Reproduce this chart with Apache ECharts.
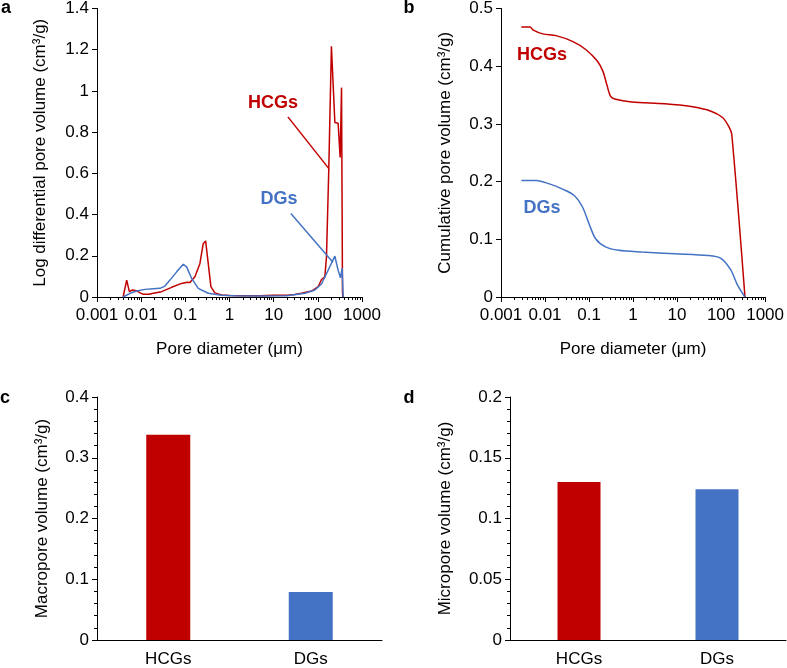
<!DOCTYPE html>
<html>
<head>
<meta charset="utf-8">
<script src="https://cdn.jsdelivr.net/npm/echarts@6/dist/echarts.min.js"></script>
<style>
  html, body { margin: 0; padding: 0; background: #fff; }
  #chart { width: 787px; height: 668px; }
</style>
</head>
<body>
<div id="chart"></div>
<script>
// panel a - log differential pore volume
var hcgsDiffDiam = [0.0039, 0.0047, 0.0054, 0.0063, 0.0079, 0.0095, 0.0112, 0.015, 0.0188, 0.029, 0.049, 0.082, 0.11, 0.127, 0.165, 0.214, 0.254, 0.288, 0.33, 0.379, 0.465, 0.66, 1, 2, 5, 10, 20, 30, 42.6, 72, 102, 121, 144, 157, 177, 203, 243, 288, 320, 344, 362, 370]
var hcgsDiffVol = [0, 0.082, 0.026, 0.034, 0.03, 0.02, 0.013, 0.013, 0.018, 0.026, 0.047, 0.066, 0.072, 0.07, 0.098, 0.163, 0.259, 0.272, 0.163, 0.05, 0.02, 0.01, 0.007, 0.006, 0.006, 0.008, 0.009, 0.012, 0.018, 0.029, 0.05, 0.085, 0.098, 0.195, 0.62, 1.217, 0.847, 0.843, 0.677, 1.016, 0.02, 0]
var dgsDiffDiam = [0.0039, 0.0056, 0.0079, 0.0122, 0.0188, 0.0266, 0.0345, 0.0449, 0.0636, 0.0898, 0.107, 0.139, 0.196, 0.33, 0.66, 1.32, 5, 20, 50.8, 85.5, 121, 171, 243, 288, 326, 355, 374]
var dgsDiffVol = [0, 0.018, 0.029, 0.037, 0.04, 0.042, 0.053, 0.082, 0.122, 0.159, 0.146, 0.09, 0.042, 0.018, 0.008, 0.006, 0.005, 0.006, 0.018, 0.034, 0.063, 0.13, 0.198, 0.13, 0.093, 0.14, 0]

// panel b - cumulative pore volume
var hcgsCumDiam = [0.0029, 0.0046, 0.0053, 0.0089, 0.0178, 0.042, 0.084, 0.154, 0.207, 0.258, 0.307, 0.384, 0.94, 5.3, 21, 59, 108, 153, 175, 349]
var hcgsCumVol = [0.468, 0.468, 0.463, 0.456, 0.453, 0.443, 0.429, 0.409, 0.391, 0.366, 0.348, 0.343, 0.338, 0.335, 0.33, 0.322, 0.311, 0.294, 0.282, 0]
var dgsCumDiam = [0.0029, 0.0063, 0.0126, 0.025, 0.046, 0.071, 0.1, 0.141, 0.237, 0.472, 1.58, 8.9, 49.8, 99, 166, 235, 349]
var dgsCumVol = [0.202, 0.202, 0.196, 0.187, 0.176, 0.156, 0.127, 0.101, 0.087, 0.081, 0.078, 0.075, 0.072, 0.067, 0.047, 0.021, 0]

// panels c, d
var samples = ['HCGs', 'DGs']
var macroVol = [0.338, 0.079]
var microVol = [0.13, 0.124]

var diamTicks = [0.001, 0.01, 0.1, 1, 10, 100, 1000]
var diamTickLabels = ['0.001', '0.01', '0.1', '1', '10', '100', '1000']

var RED = '#C00000'
var BLUE = '#4472C4'
var FONT = 'Liberation Sans, Arial, sans-serif'

var minorDiamTicks = []
for (var e = -3; e < 3; e++) {
  for (var k = 2; k < 10; k++) {
    minorDiamTicks.push(+(k * Math.pow(10, e)).toPrecision(3))
  }
}

function pairs(xs, ys) {
  return xs.map(function (x, i) { return [x, ys[i]] })
}

function logAxis(grid) {
  return [{
    type: 'log', gridIndex: grid, position: 'bottom', min: 0.001, max: 1000, logBase: 10,
    axisLine: { lineStyle: { color: '#000', width: 1 } },
    axisTick: { length: 5, customValues: diamTicks, lineStyle: { color: '#000' } },
    axisLabel: {
      customValues: diamTicks, margin: 10, color: '#000', fontSize: 17, fontFamily: FONT,
      formatter: function (v) { return diamTickLabels[diamTicks.indexOf(+v.toPrecision(3))] || '' }
    },
    splitLine: { show: false },
    name: 'Pore diameter (μm)', nameLocation: 'middle', nameGap: 44,
    nameTextStyle: { color: '#000', fontSize: 17, fontFamily: FONT }
  }, {
    // minor decade ticks
    type: 'log', gridIndex: grid, position: 'bottom', min: 0.001, max: 1000, logBase: 10,
    axisLine: { show: false },
    axisTick: { length: 3, customValues: minorDiamTicks, lineStyle: { color: '#000' } },
    axisLabel: { show: false },
    splitLine: { show: false }
  }]
}

function valueAxis(grid, max, interval, name, gap, minor) {
  return {
    type: 'value', gridIndex: grid, min: 0, max: max, interval: interval,
    axisLine: { show: true, lineStyle: { color: '#000', width: 1 } },
    axisTick: { show: true, length: 5, lineStyle: { color: '#000' } },
    minorTick: { show: minor, splitNumber: 5, length: 3, lineStyle: { color: '#000' } },
    axisLabel: { margin: 8, color: '#000', fontSize: 17, fontFamily: FONT },
    splitLine: { show: false },
    name: name, nameLocation: 'middle', nameGap: gap,
    nameTextStyle: { color: '#000', fontSize: 17, fontFamily: FONT }
  }
}

function catAxis(grid) {
  return {
    type: 'category', gridIndex: grid, data: samples,
    axisLine: { lineStyle: { color: '#000', width: 1 } },
    axisTick: { show: false },
    axisLabel: { margin: 11, color: '#000', fontSize: 17, fontFamily: FONT }
  }
}

function lineSeries(x, y, data, color, smooth) {
  return {
    type: 'line', xAxisIndex: x, yAxisIndex: y, data: data,
    showSymbol: false, smooth: smooth, silent: true,
    lineStyle: { color: color, width: 1.5 }
  }
}

function leader(color, from, to) {
  return {
    silent: true, symbol: 'none', label: { show: false },
    lineStyle: { color: color, width: 1.5, type: 'solid' },
    data: [[{ coord: from }, { coord: to }]]
  }
}

function text(x, y, str, color, size) {
  return {
    type: 'text', x: x, y: y,
    style: { text: str, fill: color, font: 'bold ' + size + 'px ' + FONT, textAlign: 'center', textVerticalAlign: 'middle' }
  }
}

var chart = echarts.init(document.getElementById('chart'))

var redA = lineSeries(0, 0, pairs(hcgsDiffDiam, hcgsDiffVol), RED, false)
redA.markLine = leader(RED, [21, 0.874], [178, 0.623])
var blueA = lineSeries(0, 0, pairs(dgsDiffDiam, dgsDiffVol), BLUE, false)
blueA.markLine = leader(BLUE, [24.5, 0.405], [219, 0.169])

chart.setOption({
  animation: false,
  grid: [
    { left: 97, top: 7, width: 265, height: 290 },
    { left: 501, top: 7, width: 267, height: 290 },
    { left: 97, top: 397, width: 285, height: 245 },
    { left: 510, top: 397, width: 276, height: 245 }
  ],
  xAxis: logAxis(0).concat(logAxis(1), [catAxis(2), catAxis(3)]),
  yAxis: [
    valueAxis(0, 1.4, 0.2, 'Log differential pore volume (cm³/g)', 48, false),
    valueAxis(1, 0.5, 0.1, 'Cumulative pore volume (cm³/g)', 47, false),
    valueAxis(2, 0.4, 0.1, 'Macropore volume (cm³/g)', 46, true),
    valueAxis(3, 0.2, 0.05, 'Micropore volume (cm³/g)', 56, true)
  ],
  series: [
    redA,
    blueA,
    lineSeries(2, 1, pairs(hcgsCumDiam, hcgsCumVol), RED, 0.3),
    lineSeries(2, 1, pairs(dgsCumDiam, dgsCumVol), BLUE, 0.3),
    {
      type: 'bar', xAxisIndex: 4, yAxisIndex: 2, barWidth: 44, silent: true,
      data: macroVol.map(function (v, i) { return { value: v, itemStyle: { color: i === 0 ? RED : BLUE } } })
    },
    {
      type: 'bar', xAxisIndex: 5, yAxisIndex: 3, barWidth: 43, silent: true,
      data: microVol.map(function (v, i) { return { value: v, itemStyle: { color: i === 0 ? RED : BLUE } } })
    }
  ],
  graphic: [
    text(6, 8, 'a', '#000', 18),
    text(409, 8, 'b', '#000', 18),
    text(5, 398, 'c', '#000', 18),
    text(409, 398, 'd', '#000', 18),
    text(273, 103, 'HCGs', RED, 18),
    text(279, 199, 'DGs', BLUE, 18),
    text(542, 55, 'HCGs', RED, 18),
    text(542, 208, 'DGs', BLUE, 18)
  ]
})
</script>
</body>
</html>
